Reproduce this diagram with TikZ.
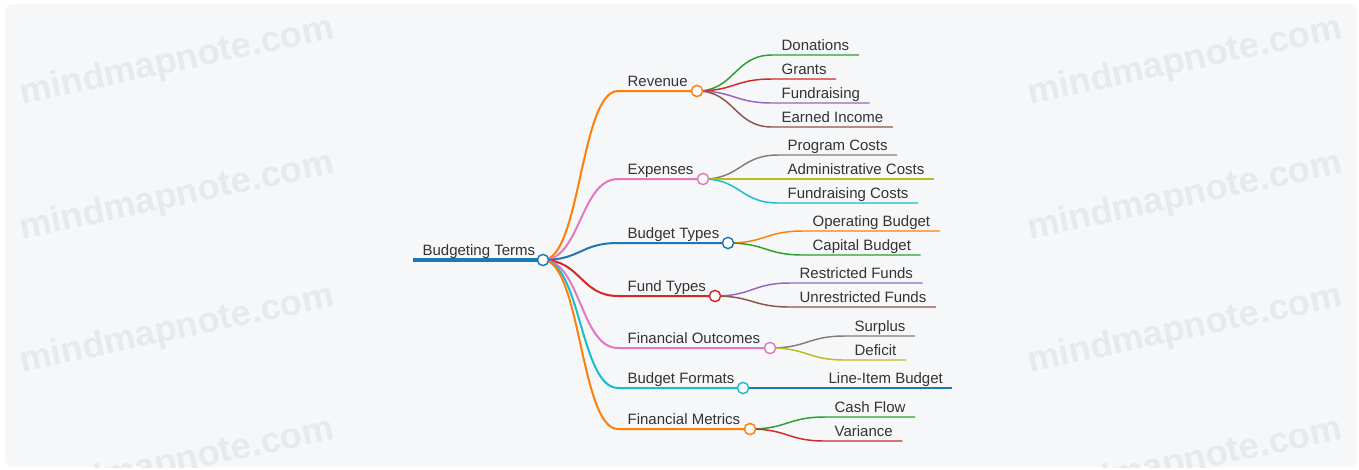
\documentclass[tikz,border=0pt]{standalone}
\usepackage{fontspec}
\setmainfont{Liberation Sans}
\usepackage{xcolor}
\usepackage{tikz}
\definecolor{panel}{RGB}{246,247,249}
\definecolor{wmgray}{RGB}{231,233,236}
\definecolor{ink}{RGB}{51,51,51}
\definecolor{cblue}{RGB}{31,119,180}
\definecolor{corange}{RGB}{255,127,14}
\definecolor{cgreen}{RGB}{44,160,44}
\definecolor{cred}{RGB}{214,39,40}
\definecolor{cpurple}{RGB}{148,103,189}
\definecolor{cbrown}{RGB}{140,86,75}
\definecolor{cpink}{RGB}{227,119,194}
\definecolor{cgray}{RGB}{127,127,127}
\definecolor{colive}{RGB}{188,189,34}
\definecolor{ccyan}{RGB}{23,190,207}

\begin{document}
\begin{tikzpicture}[
      x=0.75pt, y=-0.75pt,
      lbl/.style={anchor=base west, yshift=3.75pt, inner xsep=7pt, inner ysep=0pt,
        text=ink, font=\fontsize{11.25}{13}\selectfont},
      dot/.style={circle, fill=white, line width=1.1pt, minimum size=8.4pt, inner sep=0pt},
      trunk/.style={line width=2.6pt},
      limb/.style={line width=1.5pt},
      twig/.style={line width=1.1pt},
      wmark/.style={text=wmgray, rotate=12, inner sep=0pt,
        font=\fontsize{27}{30}\selectfont\bfseries}
    ]
    \useasboundingbox (0,0) rectangle (1359,469);
    \fill[white] (0,0) rectangle (1359,469);
    \fill[panel, rounded corners=6pt] (5,4) rectangle (1357,467);

    % watermark, clipped to the panel
    \begin{scope}
      \clip[rounded corners=6pt] (5,4) rectangle (1357,467);
      \node[wmark] (wl1) at (177,62) {mindmapnote.com};
      \node[wmark] (wl2) at (177,197) {mindmapnote.com};
      \node[wmark] (wl3) at (177,330) {mindmapnote.com};
      \node[wmark] (wl4) at (177,463) {mindmapnote.com};
      \node[wmark] (wr1) at (1185,62) {mindmapnote.com};
      \node[wmark] (wr2) at (1185,197) {mindmapnote.com};
      \node[wmark] (wr3) at (1185,330) {mindmapnote.com};
      \node[wmark] (wr4) at (1185,463) {mindmapnote.com};
    \end{scope}

    % root
    \coordinate (root-a) at (413,260);
    \coordinate (root) at (543,260);
    \node[lbl] (root-t) at (root-a) {Budgeting Terms};

    % first level: line start, knob
    \coordinate (rev-a) at (618,91);   \coordinate (rev) at (697,91);
    \coordinate (exp-a) at (618,179);  \coordinate (exp) at (703,179);
    \coordinate (btyp-a) at (618,243); \coordinate (btyp) at (728,243);
    \coordinate (ftyp-a) at (618,296); \coordinate (ftyp) at (715,296);
    \coordinate (fout-a) at (618,348); \coordinate (fout) at (770,348);
    \coordinate (bfmt-a) at (618,388); \coordinate (bfmt) at (743,388);
    \coordinate (fmet-a) at (618,429); \coordinate (fmet) at (750,429);

    \node[lbl] (rev-t) at (rev-a) {Revenue};
    \node[lbl] (exp-t) at (exp-a) {Expenses};
    \node[lbl] (btyp-t) at (btyp-a) {Budget Types};
    \node[lbl] (ftyp-t) at (ftyp-a) {Fund Types};
    \node[lbl] (fout-t) at (fout-a) {Financial Outcomes};
    \node[lbl] (bfmt-t) at (bfmt-a) {Budget Formats};
    \node[lbl] (fmet-t) at (fmet-a) {Financial Metrics};

    % leaves
    \coordinate (don-a) at (772,55);
    \coordinate (gra-a) at (772,79);
    \coordinate (fun-a) at (772,103);
    \coordinate (ear-a) at (772,127);
    \coordinate (prg-a) at (778,155);
    \coordinate (adm-a) at (778,179);
    \coordinate (fnc-a) at (778,203);
    \coordinate (opb-a) at (803,231);
    \coordinate (cap-a) at (803,255);
    \coordinate (rst-a) at (790,283);
    \coordinate (urs-a) at (790,307);
    \coordinate (sur-a) at (845,336);
    \coordinate (def-a) at (845,360);
    \coordinate (lib-a) at (819,388);
    \coordinate (csh-a) at (825,417);
    \coordinate (var-a) at (825,441);

    \node[lbl] (don) at (don-a) {Donations};
    \node[lbl] (gra) at (gra-a) {Grants};
    \node[lbl] (fun) at (fun-a) {Fundraising};
    \node[lbl] (ear) at (ear-a) {Earned Income};
    \node[lbl] (prg) at (prg-a) {Program Costs};
    \node[lbl] (adm) at (adm-a) {Administrative Costs};
    \node[lbl] (fnc) at (fnc-a) {Fundraising Costs};
    \node[lbl] (opb) at (opb-a) {Operating Budget};
    \node[lbl] (cap) at (cap-a) {Capital Budget};
    \node[lbl] (rst) at (rst-a) {Restricted Funds};
    \node[lbl] (urs) at (urs-a) {Unrestricted Funds};
    \node[lbl] (sur) at (sur-a) {Surplus};
    \node[lbl] (def) at (def-a) {Deficit};
    \node[lbl] (lib) at (lib-a) {Line-Item Budget};
    \node[lbl] (csh) at (csh-a) {Cash Flow};
    \node[lbl] (var) at (var-a) {Variance};

    % leaf links
    \draw[twig, cgreen] (rev) .. controls +(37.5,0) and +(-37.5,0) .. (don-a) -- (don-a -| don.east);
    \draw[twig, cred] (rev) .. controls +(37.5,0) and +(-37.5,0) .. (gra-a) -- (gra-a -| gra.east);
    \draw[twig, cpurple] (rev) .. controls +(37.5,0) and +(-37.5,0) .. (fun-a) -- (fun-a -| fun.east);
    \draw[twig, cbrown] (rev) .. controls +(37.5,0) and +(-37.5,0) .. (ear-a) -- (ear-a -| ear.east);
    \draw[twig, cgray] (exp) .. controls +(37.5,0) and +(-37.5,0) .. (prg-a) -- (prg-a -| prg.east);
    \draw[twig, colive] (exp) .. controls +(37.5,0) and +(-37.5,0) .. (adm-a) -- (adm-a -| adm.east);
    \draw[twig, ccyan] (exp) .. controls +(37.5,0) and +(-37.5,0) .. (fnc-a) -- (fnc-a -| fnc.east);
    \draw[twig, corange] (btyp) .. controls +(37.5,0) and +(-37.5,0) .. (opb-a) -- (opb-a -| opb.east);
    \draw[twig, cgreen] (btyp) .. controls +(37.5,0) and +(-37.5,0) .. (cap-a) -- (cap-a -| cap.east);
    \draw[twig, cpurple] (ftyp) .. controls +(37.5,0) and +(-37.5,0) .. (rst-a) -- (rst-a -| rst.east);
    \draw[twig, cbrown] (ftyp) .. controls +(37.5,0) and +(-37.5,0) .. (urs-a) -- (urs-a -| urs.east);
    \draw[twig, cgray] (fout) .. controls +(37.5,0) and +(-37.5,0) .. (sur-a) -- (sur-a -| sur.east);
    \draw[twig, colive] (fout) .. controls +(37.5,0) and +(-37.5,0) .. (def-a) -- (def-a -| def.east);
    \draw[twig, cblue] (bfmt) -- (lib-a) -- (lib-a -| lib.east);
    \draw[twig, cgreen] (fmet) .. controls +(37.5,0) and +(-37.5,0) .. (csh-a) -- (csh-a -| csh.east);
    \draw[twig, cred] (fmet) .. controls +(37.5,0) and +(-37.5,0) .. (var-a) -- (var-a -| var.east);

    % first level links
    \draw[limb, corange] (root) .. controls +(37.5,0) and +(-37.5,0) .. (rev-a) -- (rev);
    \draw[limb, cpink] (root) .. controls +(37.5,0) and +(-37.5,0) .. (exp-a) -- (exp);
    \draw[limb, cblue] (root) .. controls +(37.5,0) and +(-37.5,0) .. (btyp-a) -- (btyp);
    \draw[limb, cred] (root) .. controls +(37.5,0) and +(-37.5,0) .. (ftyp-a) -- (ftyp);
    \draw[limb, cpink] (root) .. controls +(37.5,0) and +(-37.5,0) .. (fout-a) -- (fout);
    \draw[limb, ccyan] (root) .. controls +(37.5,0) and +(-37.5,0) .. (bfmt-a) -- (bfmt);
    \draw[limb, corange] (root) .. controls +(37.5,0) and +(-37.5,0) .. (fmet-a) -- (fmet);
    \draw[trunk, cblue] (root-a) -- (root);

    % knobs on top
    \node[dot, draw=cblue] (root-o) at (root) {};
    \node[dot, draw=corange] (rev-o) at (rev) {};
    \node[dot, draw=cpink] (exp-o) at (exp) {};
    \node[dot, draw=cblue] (btyp-o) at (btyp) {};
    \node[dot, draw=cred] (ftyp-o) at (ftyp) {};
    \node[dot, draw=cpink] (fout-o) at (fout) {};
    \node[dot, draw=ccyan] (bfmt-o) at (bfmt) {};
    \node[dot, draw=corange] (fmet-o) at (fmet) {};
  \end{tikzpicture}
\end{document}
